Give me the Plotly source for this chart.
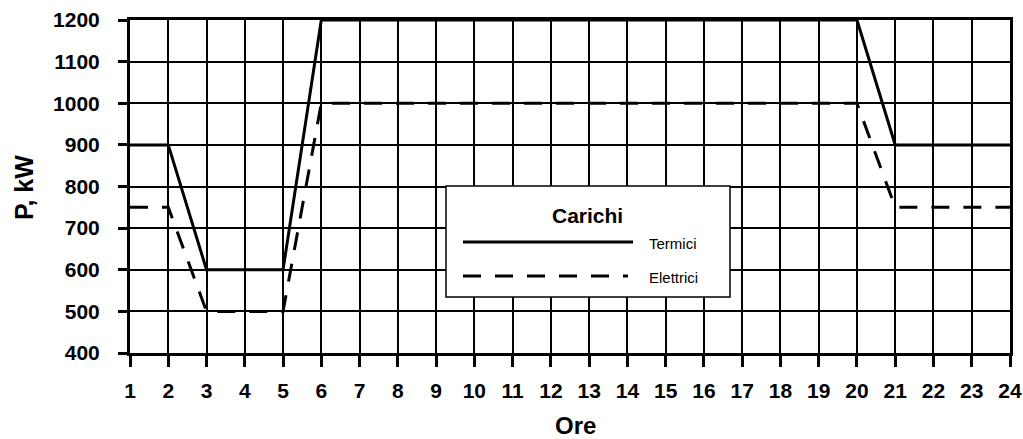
import plotly.graph_objects as go

# Hourly load profiles (kW)
ore = list(range(1, 25))
termici = [900, 900, 600, 600, 600] + [1200] * 15 + [900, 900, 900, 900]
elettrici = [750, 750, 500, 500, 500] + [1000] * 15 + [750, 750, 750, 750]

y_ticks = [400, 500, 600, 700, 800, 900, 1000, 1100, 1200]
x_ticks = ore

FONT = "Liberation Sans, Arial, sans-serif"

fig = go.Figure()
fig.add_trace(go.Scatter(x=ore, y=termici, mode="lines", name="Termici",
                         line=dict(color="black", width=3)))
fig.add_trace(go.Scatter(x=ore, y=elettrici, mode="lines", name="Elettrici",
                         line=dict(color="black", width=3, dash="18px,14px")))

L, R, T, B = 130, 13, 20, 86
W, H = 1023, 439
pw, ph = W - L - R, H - T - B

def px(xp):
    return (xp - L) / pw

def py(yp):
    return (H - B - yp) / ph

shapes = [
    # legend frame
    dict(type="rect", xref="paper", yref="paper", x0=px(446), x1=px(730),
         y0=py(297), y1=py(186), fillcolor="white", line=dict(color="black", width=1.5),
         layer="above"),
    dict(type="line", xref="paper", yref="paper", x0=px(463), x1=px(633),
         y0=py(242), y1=py(242), line=dict(color="black", width=3), layer="above"),
    dict(type="line", xref="paper", yref="paper", x0=px(463), x1=px(628),
         y0=py(276), y1=py(276), line=dict(color="black", width=3, dash="18px,14px"),
         layer="above"),
]

annotations = [
    dict(text="<b>Carichi</b>", xref="paper", yref="paper", x=px(587), y=py(215),
         showarrow=False, font=dict(family=FONT, size=21, color="black"),
         xanchor="center", yanchor="middle"),
    dict(text="Termici", xref="paper", yref="paper", x=px(647), y=py(243),
         showarrow=False, font=dict(family=FONT, size=15, color="black"),
         xanchor="left", yanchor="middle"),
    dict(text="Elettrici", xref="paper", yref="paper", x=px(647), y=py(277),
         showarrow=False, font=dict(family=FONT, size=15, color="black"),
         xanchor="left", yanchor="middle"),
    dict(text="<b>Ore</b>", xref="paper", yref="paper", x=px(575), y=py(425),
         showarrow=False, font=dict(family=FONT, size=24, color="black"),
         xanchor="center", yanchor="middle"),
    dict(text="<b>P, kW</b>", xref="paper", yref="paper", x=px(24), y=py(188),
         showarrow=False, textangle=-90, font=dict(family=FONT, size=25, color="black"),
         xanchor="center", yanchor="middle"),
]

fig.update_layout(
    width=W, height=H,
    margin=dict(l=L, r=R, t=T, b=B, autoexpand=False),
    paper_bgcolor="white", plot_bgcolor="white",
    showlegend=False,
    shapes=shapes, annotations=annotations,
    font=dict(family=FONT, color="black"),
)
fig.update_xaxes(
    range=[1, 24], tickvals=x_ticks, ticktext=[f"<b>{v}</b>" for v in x_ticks],
    showgrid=True, gridcolor="black", gridwidth=2,
    showline=True, linecolor="black", linewidth=3, mirror=True,
    ticks="outside", ticklen=11, tickwidth=3, tickcolor="black",
    tickfont=dict(family=FONT, size=21, color="black"),
    ticklabelstandoff=6, zeroline=False, fixedrange=True, automargin=False,
)
fig.update_yaxes(
    range=[400, 1200], tickvals=y_ticks, ticktext=[f"<b>{v}</b>" for v in y_ticks],
    showgrid=True, gridcolor="black", gridwidth=2,
    showline=True, linecolor="black", linewidth=3, mirror=True,
    ticks="outside", ticklen=9, tickwidth=3, tickcolor="black",
    tickfont=dict(family=FONT, size=21, color="black"),
    ticklabelstandoff=14, zeroline=False, fixedrange=True, automargin=False,
)

fig.write_html("out.html", config={"displayModeBar": False})
